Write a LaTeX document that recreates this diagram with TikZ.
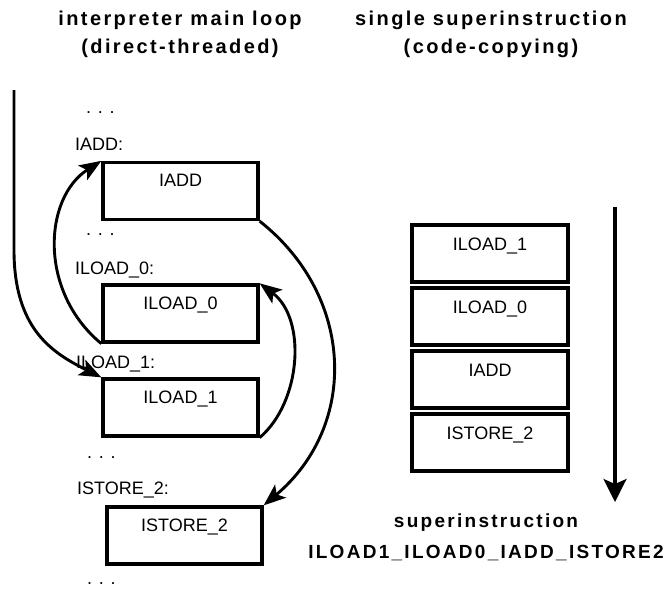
\documentclass[tikz,border=0pt]{standalone}
\usepackage{fontspec}
\setmainfont{Liberation Sans}
\newfontfamily\titlefont[LetterSpace=12]{Liberation Sans}
\usetikzlibrary{arrows.meta}
\begin{document}
\begin{tikzpicture}[x=1pt,y=1pt,
  box/.style={draw, line width=3.3pt, minimum width=155pt, minimum height=57pt, inner sep=0pt},
  rbox/.style={draw, line width=3.3pt, minimum width=156pt, minimum height=57pt, inner sep=0pt},
  txt/.style={anchor=base, inner sep=0pt, font=\fontsize{18}{21}\selectfont},
  lbl/.style={anchor=base west, inner sep=0pt, font=\fontsize{18}{21}\selectfont},
  ttl/.style={anchor=base, inner sep=0pt, font=\titlefont\bfseries\fontsize{20}{24}\selectfont},
  btl/.style={anchor=base, inner sep=0pt, font=\titlefont\bfseries\fontsize{19}{23}\selectfont},
  conn/.style={line width=2.9pt, -{Stealth[length=22pt,width=17pt,inset=5pt]}},
  darrow/.style={line width=3.1pt, -{Stealth[length=23pt,width=23pt,inset=5pt]}}
]
\useasboundingbox (0,0) rectangle (666,-590);

% titles
\node[ttl] (t1a) at (180,-25) {interpreter main loop};
\node[ttl] (t1b) at (180,-53) {(direct-threaded)};
\node[ttl] (t2a) at (491,-25) {single superinstruction};
\node[ttl] (t2b) at (491,-53) {(code-copying)};

% left column
\node[lbl] (d1) at (86,-113) {. . .};
\node[lbl] (l1) at (75,-150) {IADD:};
\node[box] (iadd) at (180.5,-191) {};
\node[txt] (iaddt) at ([yshift=-26pt]iadd.north) {IADD};
\node[lbl] (d2) at (86,-235) {. . .};
\node[lbl] (l2) at (75,-274) {ILOAD\_0:};
\node[box] (ld0) at (180.5,-313.5) {};
\node[txt] (ld0t) at ([yshift=-26pt]ld0.north) {ILOAD\_0};
\node[lbl] (l3) at (76,-368) {ILOAD\_1:};
\node[box] (ld1) at (180.5,-407.5) {};
\node[txt] (ld1t) at ([yshift=-26pt]ld1.north) {ILOAD\_1};
\node[lbl] (d3) at (87,-458) {. . .};
\node[lbl] (l4) at (77,-494) {ISTORE\_2:};
\node[box] (st2) at (184.5,-535.5) {};
\node[txt] (st2t) at ([yshift=-26pt]st2.north) {ISTORE\_2};
\node[lbl] (d4) at (87,-584) {. . .};

% connectors left
\coordinate (vs) at (14,-90);
\coordinate (vb) at (14,-250);
\draw[conn] (vs) -- (vb) .. controls +(0,-80) and +(-48,24) .. (ld1.north west);
\draw[conn] (ld0.south west) .. controls +(-63,52) and +(-58,-37) .. (iadd.north west);
\draw[conn] (iadd.south east) .. controls +(95,-75) and +(95,80) .. (st2.north east);
\draw[conn] (ld1.south east) .. controls +(42,36) and +(47,-35) .. (ld0.north east);

% right column
\node[rbox] (r1) at (490,-253.5) {};
\node[txt] (r1t) at ([yshift=-27pt]r1.north) {ILOAD\_1};
\node[rbox] (r2) at (490,-316.5) {};
\node[txt] (r2t) at ([yshift=-27pt]r2.north) {ILOAD\_0};
\node[rbox] (r3) at (490,-379.5) {};
\node[txt] (r3t) at ([yshift=-27pt]r3.north) {IADD};
\node[rbox] (r4) at (490,-442.5) {};
\node[txt] (r4t) at ([yshift=-27pt]r4.north) {ISTORE\_2};

\coordinate (as) at (615,-207);
\coordinate (ae) at (615,-502);
\draw[darrow] (as) -- (ae);

\node[btl] (b1) at (486,-527) {superinstruction};
\node[btl] (b2) at (486,-558) {ILOAD1\_ILOAD0\_IADD\_ISTORE2};
\end{tikzpicture}
\end{document}
